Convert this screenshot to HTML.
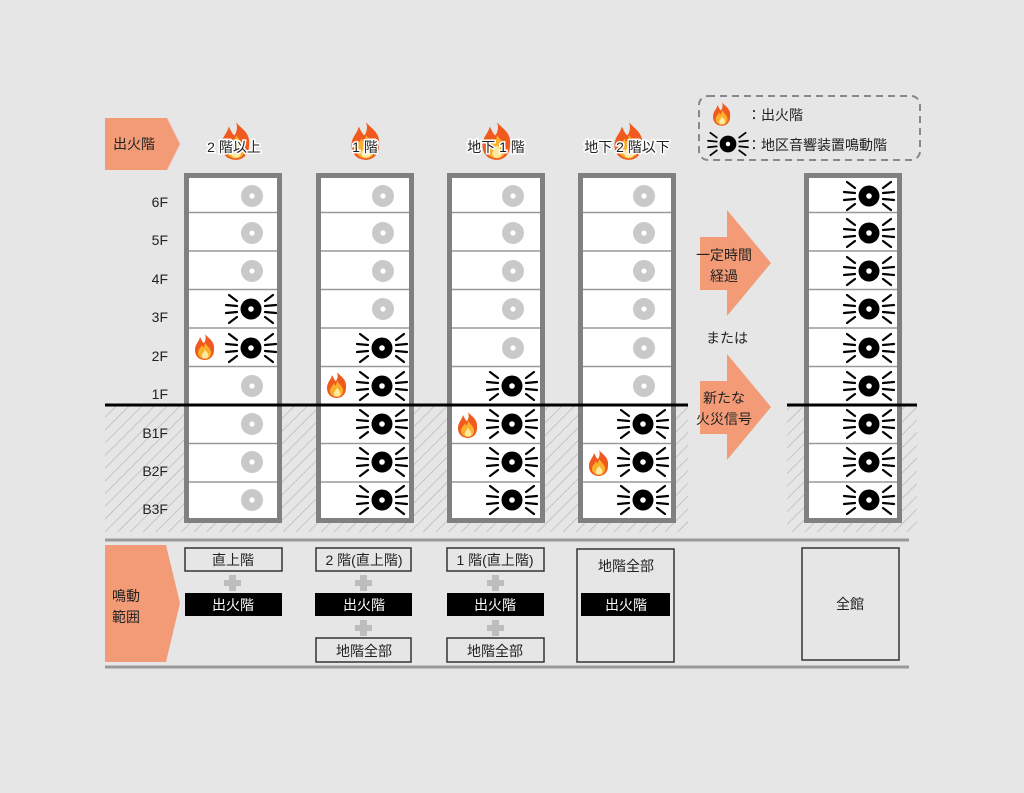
<!DOCTYPE html>
<html><head><meta charset="utf-8"><style>
html,body{margin:0;padding:0;background:#e6e6e6;}
svg{display:block;}
text{font-family:"Liberation Sans","Noto Sans CJK JP",sans-serif;}
</style></head><body>
<svg width="1024" height="793" viewBox="0 0 1024 793" xmlns="http://www.w3.org/2000/svg">
<defs>
<pattern id="hatch" width="9" height="9" patternUnits="userSpaceOnUse" patternTransform="rotate(45)">
<rect width="9" height="9" fill="#e6e6e6"/><line x1="0" y1="0" x2="0" y2="9" stroke="#b0b0b0" stroke-width="1.2"/>
</pattern>
<g id="off"><circle r="11" fill="#c9c9c9"/><circle r="2.6" fill="#fff"/></g>
<g id="on"><circle r="10.5" fill="#000"/><circle r="2.8" fill="#fff"/>
<g stroke="#000" stroke-width="2.2" stroke-linecap="round">
<line x1="-14" y1="-8" x2="-22" y2="-14"/><line x1="-14" y1="-3" x2="-25" y2="-4"/><line x1="-14" y1="3" x2="-25" y2="4"/><line x1="-14" y1="8" x2="-22" y2="14"/>
<line x1="14" y1="-8" x2="22" y2="-14"/><line x1="14" y1="-3" x2="25" y2="-4"/><line x1="14" y1="3" x2="25" y2="4"/><line x1="14" y1="8" x2="22" y2="14"/>
</g></g>
<g id="fire">
<path d="M0,-13 C4,-8 10,-6 9,3 C9,10 4,13 0,13 C-5,13 -10,10 -10,3 C-10,-3 -6,-5 -5,-10 C-3,-6 -2,-4 -1,-4 C1,-7 1,-10 0,-13Z" fill="#f05a1e"/>
<path d="M0,-4 C3,0 7,3 6,7 C5,11 2,12 0,12 C-3,12 -7,10 -7,6 C-7,2 -4,1 -3,-2 C-2,1 -1,2 0,-4Z" fill="#fbb02c"/>
<path d="M0,3 C3,6 4,8 3,10 C2,12 -2,12 -3,10 C-4,8 -2,6 0,3Z" fill="#fde9a0"/>
</g>
</defs>

<rect x="105" y="405" width="583" height="127" fill="url(#hatch)"/>
<rect x="787" y="405" width="130" height="127" fill="url(#hatch)"/>

<g fill="#fff" stroke="#808080" stroke-width="5">
<rect x="186.5" y="175.5" width="93" height="345"/>
<rect x="318.5" y="175.5" width="93" height="345"/>
<rect x="449.5" y="175.5" width="93" height="345"/>
<rect x="580.5" y="175.5" width="93" height="345"/>
<rect x="806.5" y="175.5" width="93" height="345"/>
</g>
<g stroke="#999" stroke-width="1.5">
<path d="M189 212.5H277M189 251H277M189 289.5H277M189 328H277M189 366.5H277M189 443.5H277M189 482H277"/>
<path d="M321 212.5H409M321 251H409M321 289.5H409M321 328H409M321 366.5H409M321 443.5H409M321 482H409"/>
<path d="M452 212.5H540M452 251H540M452 289.5H540M452 328H540M452 366.5H540M452 443.5H540M452 482H540"/>
<path d="M583 212.5H671M583 251H671M583 289.5H671M583 328H671M583 366.5H671M583 443.5H671M583 482H671"/>
<path d="M809 212.5H897M809 251H897M809 289.5H897M809 328H897M809 366.5H897M809 443.5H897M809 482H897"/>
</g>
<line x1="105" y1="405" x2="688" y2="405" stroke="#000" stroke-width="3"/>
<line x1="787" y1="405" x2="917" y2="405" stroke="#000" stroke-width="3"/>

<g font-size="14" fill="#222" text-anchor="end">
<text x="168" y="207">6F</text><text x="168" y="245">5F</text><text x="168" y="284">4F</text><text x="168" y="322">3F</text><text x="168" y="361">2F</text><text x="168" y="399">1F</text><text x="168" y="438">B1F</text><text x="168" y="476">B2F</text><text x="168" y="514">B3F</text>
</g>

<use href="#off" x="252" y="196"/><use href="#off" x="252" y="233"/><use href="#off" x="252" y="271"/>
<use href="#on" x="251" y="309"/><use href="#on" x="251" y="348"/><use href="#fire" x="205" y="347"/>
<use href="#off" x="252" y="386"/><use href="#off" x="252" y="424"/><use href="#off" x="252" y="462"/><use href="#off" x="252" y="500"/>
<use href="#off" x="383" y="196"/><use href="#off" x="383" y="233"/><use href="#off" x="383" y="271"/><use href="#off" x="383" y="309"/>
<use href="#on" x="382" y="348"/><use href="#on" x="382" y="386"/><use href="#fire" x="337" y="385"/>
<use href="#on" x="382" y="424"/><use href="#on" x="382" y="462"/><use href="#on" x="382" y="500"/>
<use href="#off" x="513" y="196"/><use href="#off" x="513" y="233"/><use href="#off" x="513" y="271"/><use href="#off" x="513" y="309"/><use href="#off" x="513" y="348"/>
<use href="#on" x="512" y="386"/><use href="#on" x="512" y="424"/><use href="#fire" x="468" y="425"/>
<use href="#on" x="512" y="462"/><use href="#on" x="512" y="500"/>
<use href="#off" x="644" y="196"/><use href="#off" x="644" y="233"/><use href="#off" x="644" y="271"/><use href="#off" x="644" y="309"/><use href="#off" x="644" y="348"/><use href="#off" x="644" y="386"/>
<use href="#on" x="643" y="424"/><use href="#on" x="643" y="462"/><use href="#fire" x="599" y="463"/><use href="#on" x="643" y="500"/>
<use href="#on" x="869" y="196"/><use href="#on" x="869" y="233"/><use href="#on" x="869" y="271"/><use href="#on" x="869" y="309"/><use href="#on" x="869" y="348"/><use href="#on" x="869" y="386"/><use href="#on" x="869" y="424"/><use href="#on" x="869" y="462"/><use href="#on" x="869" y="500"/>

<polygon points="105,118 167,118 180,144 167,170 105,170" fill="#f29b76"/>
<text x="113" y="149" font-size="14" fill="#222">出火階</text>
<g transform="translate(236,141) scale(1.45)"><use href="#fire"/></g>
<g transform="translate(366,141) scale(1.45)"><use href="#fire"/></g>
<g transform="translate(497,141) scale(1.45)"><use href="#fire"/></g>
<g transform="translate(629,141) scale(1.45)"><use href="#fire"/></g>
<g font-size="14" fill="#222" text-anchor="middle" stroke="#fff" stroke-width="3" paint-order="stroke">
<text x="234" y="152">2 階以上</text><text x="365" y="152">1 階</text><text x="496" y="152">地下 1 階</text><text x="627" y="152">地下 2 階以下</text>
</g>

<rect x="699" y="96" width="221" height="64" rx="9" fill="none" stroke="#888" stroke-width="2" stroke-dasharray="7,5"/>
<g transform="translate(722,114) scale(0.9)"><use href="#fire"/></g>
<g transform="translate(728,144) scale(0.8)"><use href="#on"/></g>
<text x="747" y="120" font-size="14" fill="#222">：出火階</text>
<text x="747" y="150" font-size="14" fill="#222">：地区音響装置鳴動階</text>

<polygon points="700,237 727,237 727,210 771,263 727,316 727,290 700,290" fill="#f29b76"/>
<polygon points="700,381 727,381 727,354 771,407 727,460 727,434 700,434" fill="#f29b76"/>
<g font-size="14" fill="#222" text-anchor="middle">
<text x="724" y="260">一定時間</text><text x="724" y="281">経過</text>
<text x="727" y="343">または</text>
<text x="724" y="403">新たな</text><text x="724" y="424">火災信号</text>
</g>

<line x1="105" y1="540" x2="909" y2="540" stroke="#9a9a9a" stroke-width="3"/>
<line x1="105" y1="667" x2="909" y2="667" stroke="#9a9a9a" stroke-width="3"/>

<polygon points="105,545 166,545 180,603 166,662 105,662" fill="#f29b76"/>
<text x="112" y="601" font-size="14" fill="#222">鳴動</text>
<text x="112" y="622" font-size="14" fill="#222">範囲</text>

<g fill="none" stroke="#333" stroke-width="1.5">
<rect x="185" y="548" width="97" height="23"/>
<rect x="316" y="548" width="95" height="23"/>
<rect x="447" y="548" width="97" height="23"/>
<rect x="316" y="638" width="95" height="24"/>
<rect x="447" y="638" width="97" height="24"/>
<rect x="577" y="549" width="97" height="113"/>
<rect x="802" y="548" width="97" height="112"/>
</g>
<g fill="#000">
<rect x="185" y="593" width="97" height="23"/>
<rect x="315" y="593" width="97" height="23"/>
<rect x="447" y="593" width="97" height="23"/>
<rect x="581" y="593" width="89" height="23"/>
</g>
<g fill="#bdbdbd">
<rect x="229" y="575" width="7" height="16"/><rect x="224" y="580" width="17" height="6"/>
<rect x="360" y="575" width="7" height="16"/><rect x="355" y="580" width="17" height="6"/>
<rect x="360" y="620" width="7" height="16"/><rect x="355" y="625" width="17" height="6"/>
<rect x="492" y="575" width="7" height="16"/><rect x="487" y="580" width="17" height="6"/>
<rect x="492" y="620" width="7" height="16"/><rect x="487" y="625" width="17" height="6"/>
</g>
<g font-size="14" text-anchor="middle" fill="#222">
<text x="233" y="565">直上階</text>
<text x="364" y="565">2 階(直上階)</text>
<text x="495" y="565">1 階(直上階)</text>
<text x="364" y="656">地階全部</text>
<text x="495" y="656">地階全部</text>
<text x="626" y="571">地階全部</text>
<text x="850" y="609">全館</text>
</g>
<g font-size="14" text-anchor="middle" fill="#fff">
<text x="233" y="610">出火階</text><text x="364" y="610">出火階</text><text x="495" y="610">出火階</text><text x="626" y="610">出火階</text>
</g>
</svg>
</body></html>
